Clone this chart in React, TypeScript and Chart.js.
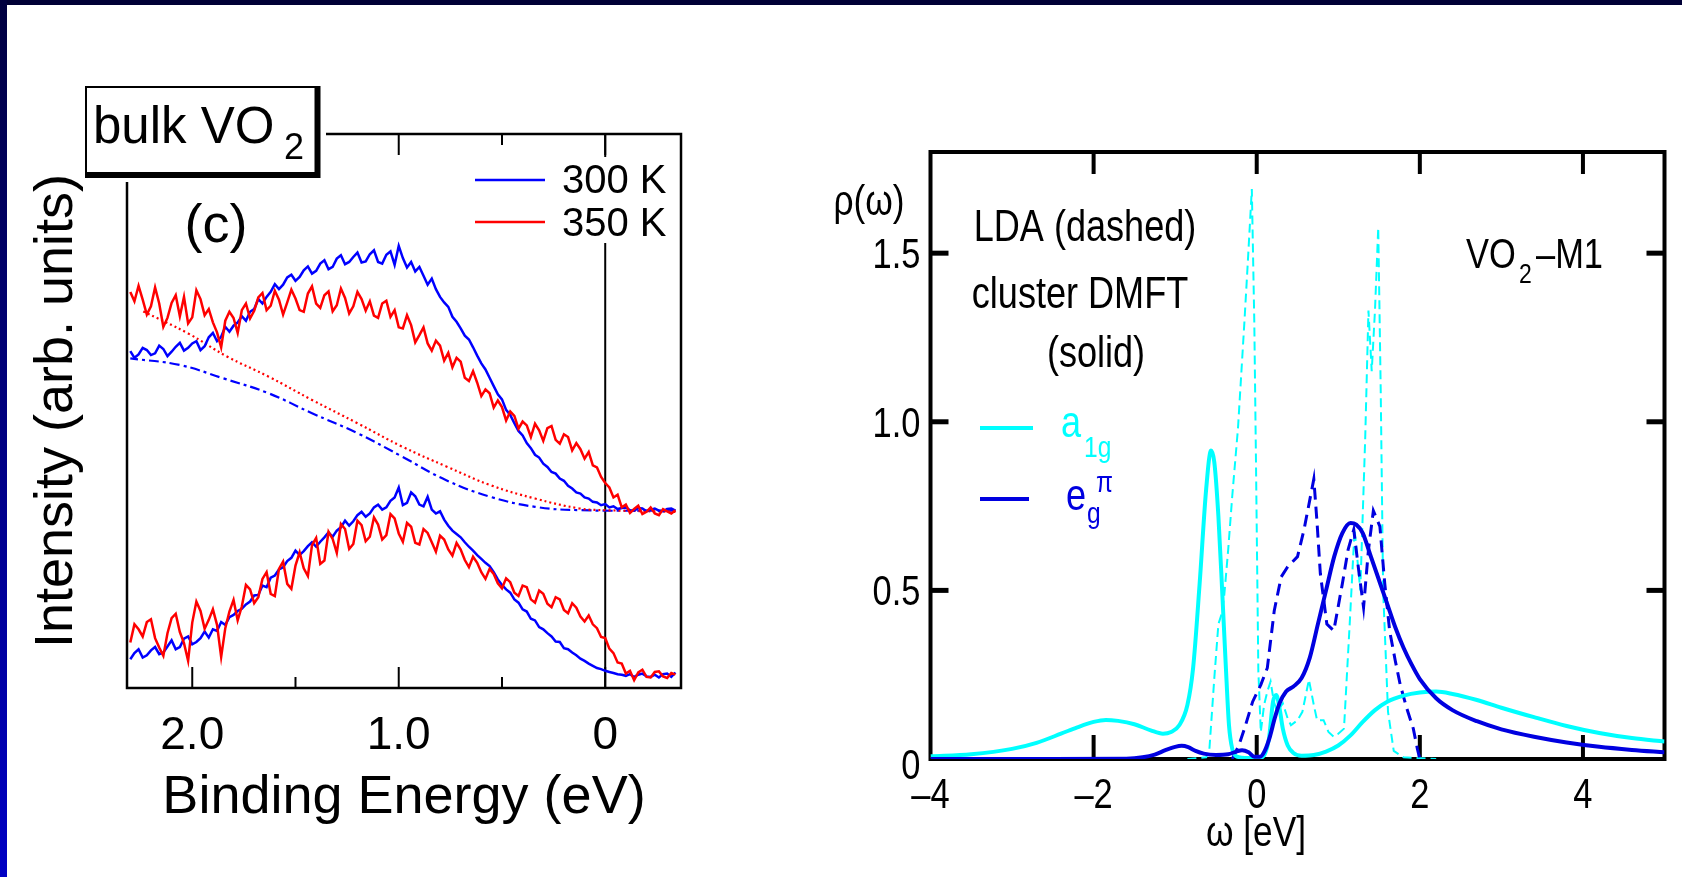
import React, { useEffect, useRef } from 'react';
import { Chart, registerables } from 'chart.js';

Chart.register(...registerables);

const SANS = '"Liberation Sans", Arial, Helvetica, sans-serif';
const NARROW_SCALE = 0.82;
const BLUE = '#0000ff';
const RED = '#ff0000';
const CYAN = '#00ffff';
const DBLUE = '#0000e0';

// ---------------- Left panel: photoemission spectra ----------------
const BINDING_ENERGY = [
  2.30, 2.28, 2.26, 2.24, 2.22, 2.20, 2.18, 2.16, 2.14, 2.12,
  2.10, 2.08, 2.06, 2.04, 2.02, 2.00, 1.98, 1.96, 1.94, 1.92,
  1.90, 1.88, 1.86, 1.84, 1.82, 1.80, 1.78, 1.76, 1.74, 1.72,
  1.70, 1.68, 1.66, 1.64, 1.62, 1.60, 1.58, 1.56, 1.54, 1.52,
  1.50, 1.48, 1.46, 1.44, 1.42, 1.40, 1.38, 1.36, 1.34, 1.32,
  1.30, 1.28, 1.26, 1.24, 1.22, 1.20, 1.18, 1.16, 1.14, 1.12,
  1.10, 1.08, 1.06, 1.04, 1.02, 1.00, 0.98, 0.96, 0.94, 0.92,
  0.90, 0.88, 0.86, 0.84, 0.82, 0.80, 0.78, 0.76, 0.74, 0.72,
  0.70, 0.68, 0.66, 0.64, 0.62, 0.60, 0.58, 0.56, 0.54, 0.52,
  0.50, 0.48, 0.46, 0.44, 0.42, 0.40, 0.38, 0.36, 0.34, 0.32,
  0.30, 0.28, 0.26, 0.24, 0.22, 0.20, 0.18, 0.16, 0.14, 0.12,
  0.10, 0.08, 0.06, 0.04, 0.02, 0.00, -0.02, -0.04, -0.06, -0.08,
  -0.10, -0.12, -0.14, -0.16, -0.18, -0.20, -0.22, -0.24, -0.26, -0.28,
  -0.30, -0.32, -0.34,
];

const BLUE_300K_TOP = [
  60.8, 59.6, 60.2, 61.4, 61.0, 60.1, 60.4, 61.8, 61.2, 59.9,
  60.7, 61.6, 62.3, 60.9, 61.4, 62.2, 62.6, 61.0, 61.7, 63.3,
  64.1, 62.6, 63.4, 65.2, 64.3, 65.4, 66.0, 67.1, 66.3, 67.9,
  68.4, 70.2, 69.4, 70.6, 71.5, 72.9, 72.0, 72.8, 74.1, 74.6,
  73.5, 74.2, 75.4, 76.1, 74.8, 75.3, 76.6, 77.2, 75.6, 76.0,
  77.5, 78.1, 76.5, 76.9, 77.8, 78.6, 76.8, 77.0, 78.3, 79.0,
  76.9, 76.6, 78.2, 78.8, 76.4, 79.8, 77.6, 75.9, 76.9, 75.2,
  76.0, 74.4, 72.8, 73.9, 72.0, 70.6, 69.6, 68.8, 67.0, 66.1,
  64.9, 63.6, 62.9, 61.5, 60.0, 58.6, 57.5, 56.0, 54.5, 53.0,
  52.1, 50.2, 49.3, 47.8, 46.4, 45.6, 44.2, 43.3, 42.1, 41.6,
  40.5, 39.9, 39.0, 38.7, 37.8, 37.4, 36.5, 36.0, 35.3, 35.1,
  34.4, 34.2, 33.6, 33.5, 33.0, 33.2, 32.6, 32.8, 32.3, 32.5,
  32.6, 32.1, 32.0, 32.5, 32.4, 31.9, 32.2, 32.4, 32.0, 31.9,
  32.3, 32.4, 32.0,
];

const RED_350K_TOP = [
  71.5, 69.8, 72.6, 70.1, 67.4, 68.9, 72.3, 69.4, 65.2, 66.8,
  69.5, 70.9, 67.1, 70.6, 65.8, 66.9, 71.8, 70.2, 67.3, 68.4,
  66.0, 64.2, 61.5, 66.3, 67.9, 66.8, 64.1, 68.2, 69.4, 66.7,
  68.1, 70.5, 71.3, 68.2, 69.0, 71.7, 70.1, 67.4, 69.6, 71.9,
  70.3, 68.2, 67.9, 71.2, 72.5, 69.4, 68.6, 70.9, 71.6, 68.0,
  69.1, 72.1, 70.4, 67.6, 68.9, 71.5, 70.2, 68.1, 69.8, 67.2,
  66.8, 69.4, 69.9, 67.0, 68.2, 65.1, 64.9, 67.3, 65.5, 62.4,
  63.7, 65.1, 62.2, 60.9, 62.7, 61.8, 59.1, 60.5, 57.9, 59.6,
  58.9, 56.0, 55.4, 57.2, 55.1, 52.7, 53.9, 53.2, 50.6, 51.9,
  50.7, 48.3, 49.9, 49.1, 46.8, 48.1, 47.4, 45.3, 47.7, 46.5,
  44.6, 46.9, 47.3, 44.8, 44.1, 45.8, 45.3, 42.9, 44.2, 43.1,
  41.4, 42.6, 40.2, 39.8, 38.1, 37.0, 36.2, 34.4, 34.9, 32.6,
  33.1, 31.6, 32.3, 32.9, 31.4, 31.8, 32.6, 31.5, 31.2, 32.3,
  31.9, 31.5, 32.1,
];

const BLUE_300K_DIFF = [
  5.2, 6.3, 7.0, 5.5, 5.9, 6.8, 7.4, 6.1, 6.4, 7.5,
  8.6, 7.0, 7.4, 8.9, 9.3, 7.9, 8.3, 9.0, 10.2, 9.1,
  10.6, 10.3, 11.9, 11.4, 12.8, 13.2, 13.9, 14.3, 15.1, 15.6,
  16.7, 16.8, 18.5, 18.2, 19.9, 20.3, 21.4, 21.8, 22.9, 23.5,
  24.8, 24.0, 24.7, 25.6, 26.3, 25.5, 26.4, 27.2, 28.1, 27.3,
  28.4, 29.0, 30.2, 29.3, 30.1, 31.2, 31.8, 30.9, 31.5, 32.6,
  33.1, 32.2, 32.6, 33.8, 34.4, 36.2, 33.0, 33.4, 35.3, 34.6,
  33.1, 32.8, 34.5, 32.2, 31.5, 31.9, 30.4, 29.3, 28.4, 27.8,
  27.2, 26.3, 25.5, 24.8, 24.0, 23.3, 22.6, 22.0, 20.9, 19.6,
  18.6, 17.8, 17.2, 16.0, 15.4, 14.2, 13.8, 12.5, 12.2, 11.0,
  10.6, 9.9, 9.3, 8.4, 8.3, 7.2, 7.0, 6.4, 5.9, 5.3,
  4.9, 4.4, 4.0, 3.6, 3.4, 3.1, 2.9, 2.7, 2.5, 2.4,
  2.2, 2.5, 2.0, 2.4, 2.6, 2.1, 2.0, 2.4, 1.9, 2.5,
  2.6, 2.0, 2.8,
];

const RED_350K_DIFF = [
  8.2, 11.5, 10.6, 9.3, 11.9, 12.4, 9.0, 7.3, 5.8, 9.9,
  12.6, 13.4, 10.1, 8.1, 4.9, 11.8, 15.6, 13.9, 10.7, 12.3,
  14.2, 11.4, 5.6, 10.8, 13.8, 15.9, 12.2, 14.7, 18.6, 17.8,
  15.3, 16.4, 19.7, 20.9, 17.0, 16.6, 21.5, 22.8, 18.8, 17.9,
  22.1, 24.5, 21.6, 20.2, 25.8, 27.1, 22.4, 23.0, 28.2, 26.9,
  24.4, 29.6, 28.7, 25.1, 26.0, 30.2, 29.4, 26.5, 27.3, 30.8,
  29.5, 26.8, 27.6, 31.4, 30.6, 27.9, 26.4, 29.8, 29.1, 26.2,
  25.9, 28.7, 28.0, 26.3, 24.6, 27.5, 26.8, 25.0, 23.9, 26.2,
  25.0, 23.1, 21.8, 23.7, 22.6, 20.9, 19.7, 21.5, 20.6, 18.9,
  18.0, 19.8, 19.1, 17.2, 16.6, 18.5, 18.2, 16.0, 15.4, 17.6,
  17.0, 15.2, 14.6, 16.4, 16.0, 14.1, 13.5, 15.3, 14.5, 12.9,
  12.0, 13.1, 11.5, 10.8, 9.2, 9.0, 7.1, 6.3, 4.6, 4.4,
  2.6, 3.1, 1.4, 2.8, 3.3, 2.0, 1.9, 2.9, 3.0, 2.1,
  1.8, 2.7, 2.4,
];

const BG_350K_E = [-0.34, 0.0, 0.124, 0.34, 0.555, 0.77, 0.985, 1.2, 1.42, 1.63, 1.83, 2.02, 2.25];
const BG_350K_V = [31.8, 32.1, 32.4, 34.2, 36.6, 40.0, 43.6, 47.8, 52.0, 56.2, 59.8, 64.0, 68.2];
const BG_300K_E = [-0.34, 0.124, 0.34, 0.555, 0.77, 0.985, 1.2, 1.42, 1.63, 1.85, 2.06, 2.30];
const BG_300K_V = [32.0, 32.1, 32.7, 34.5, 37.5, 41.8, 46.0, 49.6, 53.2, 55.9, 58.3, 59.5];

const LEFT_X_MIN = -0.367;
const LEFT_X_MAX = 2.316;
const LEFT_TICKS = [2.0, 1.5, 1.0, 0.5, 0];
const LEFT_TICK_LABELS = ['2.0', '', '1.0', '', '0'];
const LEFT_TICK_MAJOR = [true, false, true, false, true];
const LEFT_LEGEND = ['300 K', '350 K'];

// ---------------- Right panel: DOS ----------------
const OMEGA_A1G_DMFT = [-4.0, -3.5, -3.0, -2.7, -2.4, -2.2, -2.0, -1.85, -1.7, -1.5, -1.3, -1.15, -1.05, -0.95, -0.85, -0.78, -0.7, -0.62, -0.56, -0.52, -0.47, -0.42, -0.38, -0.34, -0.3, -0.25, -0.1, 0.05, 0.1, 0.15, 0.2, 0.24, 0.28, 0.32, 0.38, 0.45, 0.55, 0.7, 0.85, 1.0, 1.15, 1.3, 1.45, 1.6, 1.8, 2.0, 2.2, 2.4, 2.7, 3.0, 3.4, 3.8, 4.2, 4.6, 5.0];
const RHO_A1G_DMFT = [0.008, 0.014, 0.03, 0.048, 0.075, 0.094, 0.11, 0.116, 0.113, 0.103, 0.085, 0.075, 0.08, 0.1, 0.16, 0.27, 0.52, 0.8, 0.915, 0.88, 0.72, 0.48, 0.28, 0.1, 0.03, 0.008, 0.003, 0.004, 0.015, 0.06, 0.17, 0.19, 0.15, 0.09, 0.04, 0.018, 0.01, 0.012, 0.022, 0.04, 0.07, 0.11, 0.145, 0.17, 0.188, 0.197, 0.2, 0.193, 0.175, 0.152, 0.124, 0.098, 0.077, 0.062, 0.052];

const OMEGA_EG_DMFT = [-4.0, -2.5, -1.6, -1.4, -1.25, -1.12, -1.0, -0.92, -0.84, -0.75, -0.65, -0.5, -0.35, -0.25, -0.18, -0.1, -0.03, 0.04, 0.1, 0.16, 0.22, 0.28, 0.36, 0.45, 0.55, 0.65, 0.75, 0.85, 0.95, 1.05, 1.15, 1.22, 1.3, 1.4, 1.5, 1.6, 1.7, 1.8, 1.9, 2.0, 2.2, 2.4, 2.7, 3.0, 3.4, 3.8, 4.2, 4.6, 5.0];
const RHO_EG_DMFT = [0.0, 0.0, 0.001, 0.005, 0.013, 0.026, 0.036, 0.039, 0.035, 0.024, 0.016, 0.012, 0.014, 0.022, 0.026, 0.02, 0.007, 0.007, 0.025, 0.065, 0.12, 0.165, 0.2, 0.215, 0.24, 0.3, 0.4, 0.5, 0.6, 0.67, 0.70, 0.695, 0.67, 0.6, 0.53, 0.46, 0.39, 0.33, 0.28, 0.237, 0.18, 0.145, 0.112, 0.088, 0.066, 0.049, 0.036, 0.027, 0.02];

const OMEGA_A1G_LDA = [-0.85, -0.62, -0.58, -0.52, -0.47, -0.43, -0.4, -0.35, -0.3, -0.23, -0.15, -0.11, -0.06, -0.03, -0.01, 0.02, 0.05, 0.09, 0.13, 0.17, 0.21, 0.25, 0.32, 0.38, 0.42, 0.5, 0.56, 0.64, 0.7, 0.74, 0.82, 0.88, 0.945, 1.0, 1.07, 1.14, 1.2, 1.27, 1.33, 1.37, 1.41, 1.45, 1.49, 1.52, 1.55, 1.61, 1.68, 1.8, 2.2];
const RHO_A1G_LDA = [0.0, 0.005, 0.03, 0.24, 0.4, 0.43, 0.48, 0.62, 0.78, 0.98, 1.3, 1.47, 1.69, 1.3, 0.9, 0.26, 0.08, 0.16, 0.2, 0.23, 0.17, 0.14, 0.165, 0.12, 0.1, 0.115, 0.14, 0.235, 0.16, 0.115, 0.115, 0.08, 0.066, 0.075, 0.09, 0.4, 0.68, 0.5, 0.95, 1.33, 1.15, 1.33, 1.576, 1.1, 0.5, 0.14, 0.024, 0.005, 0.0];

const OMEGA_EG_LDA = [-0.3, -0.22, -0.15, -0.05, 0.05, 0.13, 0.215, 0.3, 0.38, 0.5, 0.58, 0.66, 0.70, 0.74, 0.78, 0.86, 0.945, 1.05, 1.12, 1.19, 1.25, 1.31, 1.37, 1.43, 1.51, 1.57, 1.63, 1.7, 1.76, 1.84, 1.92, 1.97, 2.0];
const RHO_EG_LDA = [0.0, 0.04, 0.09, 0.17, 0.22, 0.27, 0.44, 0.54, 0.57, 0.6, 0.68, 0.78, 0.83, 0.7, 0.55, 0.4, 0.38, 0.52, 0.62, 0.68, 0.56, 0.45, 0.62, 0.736, 0.69, 0.52, 0.38, 0.29, 0.22, 0.15, 0.09, 0.03, 0.0];

const RIGHT_X_MIN = -4;
const RIGHT_X_MAX = 5;
const RIGHT_Y_MIN = 0;
const RIGHT_Y_MAX = 1.8;
const RIGHT_X_TICKS = [-4, -2, 0, 2, 4];
const RIGHT_X_LABELS = ['\u20134', '\u20132', '0', '2', '4'];
const RIGHT_Y_TICKS = [0, 0.5, 1.0, 1.5];
const RIGHT_Y_LABELS = ['0', '0.5', '1.0', '1.5'];

const toPoints = (xs: number[], ys: number[]) => xs.map((x, i) => ({ x, y: ys[i] }));

function seg(ctx: CanvasRenderingContext2D, x1: number, y1: number, x2: number, y2: number) {
  ctx.beginPath();
  ctx.moveTo(x1, y1);
  ctx.lineTo(x2, y2);
  ctx.stroke();
}

// condensed (Helvetica-Narrow-like) text drawn with a horizontal squeeze
function narrowText(ctx: CanvasRenderingContext2D, text: string, x: number, y: number, size: number, align: CanvasTextAlign, color: string) {
  ctx.save();
  ctx.font = `${size}px ${SANS}`;
  ctx.fillStyle = color;
  ctx.textAlign = align;
  ctx.textBaseline = 'alphabetic';
  ctx.translate(x, y);
  ctx.scale(NARROW_SCALE, 1);
  ctx.fillText(text, 0, 0);
  ctx.restore();
}

const leftDeco = {
  id: 'leftDeco',
  beforeDatasetsDraw(chart: any) {
    const { ctx, chartArea: a, scales } = chart;
    const x = scales.x;
    ctx.save();
    ctx.strokeStyle = '#000';
    ctx.lineWidth = 2.5;
    ctx.strokeRect(a.left, a.top, a.right - a.left, a.bottom - a.top);
    const x0 = x.getPixelForValue(0);
    ctx.lineWidth = 2;
    seg(ctx, x0, a.top, x0, a.bottom);
    LEFT_TICKS.forEach((v, i) => {
      const px = x.getPixelForValue(v);
      const len = LEFT_TICK_MAJOR[i] ? 21 : 11;
      seg(ctx, px, a.bottom, px, a.bottom - len);
      seg(ctx, px, a.top, px, a.top + len);
    });
    ctx.restore();
  },
  afterDatasetsDraw(chart: any) {
    const { ctx } = chart;
    ctx.save();
    // legend
    ctx.fillStyle = '#fff';
    ctx.fillRect(468, 157, 207, 86);
    ctx.lineWidth = 2.5;
    ctx.strokeStyle = BLUE;
    seg(ctx, 475, 180, 545, 180);
    ctx.strokeStyle = RED;
    seg(ctx, 475, 222, 545, 222);
    ctx.fillStyle = '#000';
    ctx.font = `40px ${SANS}`;
    ctx.textAlign = 'left';
    ctx.textBaseline = 'alphabetic';
    ctx.fillText(LEFT_LEGEND[0], 562, 193);
    ctx.fillText(LEFT_LEGEND[1], 562, 236);
    // "bulk VO2" box
    ctx.fillStyle = '#fff';
    ctx.fillRect(89, 80, 237, 102);
    ctx.fillStyle = '#000';
    ctx.fillRect(85, 86, 235.5, 92);
    ctx.fillStyle = '#fff';
    ctx.fillRect(87, 88, 227.5, 84);
    ctx.fillStyle = '#000';
    ctx.font = `51px ${SANS}`;
    ctx.fillText('bulk VO', 93, 143);
    ctx.font = `36px ${SANS}`;
    ctx.fillText('2', 284, 159);
    ctx.font = `54px ${SANS}`;
    ctx.textAlign = 'center';
    ctx.fillText('(c)', 216, 242);
    ctx.restore();
  },
};

const rightDeco = {
  id: 'rightDeco',
  beforeDatasetsDraw(chart: any) {
    const { ctx, chartArea: a, scales } = chart;
    const x = scales.x;
    const y = scales.y;
    ctx.save();
    ctx.strokeStyle = '#000';
    ctx.lineWidth = 4;
    ctx.strokeRect(a.left, a.top, a.right - a.left, a.bottom - a.top);
    RIGHT_X_TICKS.forEach((v) => {
      if (v === RIGHT_X_MIN) return;
      const px = x.getPixelForValue(v);
      seg(ctx, px, a.bottom, px, a.bottom - 24);
      seg(ctx, px, a.top, px, a.top + 22);
    });
    ctx.lineWidth = 5;
    RIGHT_Y_TICKS.forEach((v) => {
      if (v === RIGHT_Y_MIN) return;
      const py = y.getPixelForValue(v);
      seg(ctx, a.left, py, a.left + 18, py);
      seg(ctx, a.right, py, a.right - 18, py);
    });
    // tick labels (condensed font) placed through the chart scales
    RIGHT_X_TICKS.forEach((v, i) => {
      narrowText(ctx, RIGHT_X_LABELS[i], x.getPixelForValue(v), a.bottom + 49, 42, 'center', '#000');
    });
    RIGHT_Y_TICKS.forEach((v, i) => {
      const dy = v === RIGHT_Y_MIN ? 5 : 0;
      narrowText(ctx, RIGHT_Y_LABELS[i], a.left - 10, y.getPixelForValue(v) + 15 + dy, 42, 'right', '#000');
    });
    ctx.restore();
  },
  afterDatasetsDraw(chart: any) {
    const { ctx } = chart;
    ctx.save();
    narrowText(ctx, '\u03c1(\u03c9)', 89, 215, 43, 'center', '#000');
    narrowText(ctx, 'LDA (dashed)', 305, 241, 44, 'center', '#000');
    narrowText(ctx, 'cluster DMFT', 300, 308, 44, 'center', '#000');
    narrowText(ctx, '(solid)', 316, 367, 44, 'center', '#000');
    narrowText(ctx, '\u03c9 [eV]', 476, 846, 43, 'center', '#000');
    // VO2-M1
    narrowText(ctx, 'VO', 686, 268, 42, 'left', '#000');
    narrowText(ctx, '2', 739, 283, 28, 'left', '#000');
    narrowText(ctx, '\u2013M1', 756, 268, 42, 'left', '#000');
    // legend
    ctx.lineWidth = 4;
    ctx.strokeStyle = CYAN;
    seg(ctx, 200, 428, 253, 428);
    ctx.strokeStyle = DBLUE;
    seg(ctx, 200, 499, 249, 499);
    narrowText(ctx, 'a', 281, 437, 44, 'left', CYAN);
    narrowText(ctx, '1g', 304, 457, 30, 'left', CYAN);
    narrowText(ctx, 'e', 286, 510, 44, 'left', DBLUE);
    narrowText(ctx, '\u03c0', 316, 492, 30, 'left', DBLUE);
    narrowText(ctx, 'g', 307, 523, 30, 'left', DBLUE);
    ctx.restore();
  },
};

function leftConfig(): any {
  const base = { pointRadius: 0, fill: false, tension: 0 };
  return {
    type: 'line',
    data: {
      datasets: [
        { ...base, label: '350 K', data: toPoints(BINDING_ENERGY, RED_350K_TOP), borderColor: RED, borderWidth: 2.5 },
        { ...base, label: '350 K diff', data: toPoints(BINDING_ENERGY, RED_350K_DIFF), borderColor: RED, borderWidth: 2.5 },
        { ...base, label: '300 K', data: toPoints(BINDING_ENERGY, BLUE_300K_TOP), borderColor: BLUE, borderWidth: 2.5 },
        { ...base, label: '300 K diff', data: toPoints(BINDING_ENERGY, BLUE_300K_DIFF), borderColor: BLUE, borderWidth: 2.5 },
        { ...base, label: '350 K background', data: toPoints(BG_350K_E, BG_350K_V), borderColor: RED, borderWidth: 2.2, borderDash: [2, 3], tension: 0.4 },
        { ...base, label: '300 K background', data: toPoints(BG_300K_E, BG_300K_V), borderColor: BLUE, borderWidth: 2.2, borderDash: [10, 4, 3, 4], tension: 0.4 },
      ],
    },
    options: {
      responsive: false,
      animation: false,
      events: [],
      layout: { padding: { left: 0, top: 134, right: 99, bottom: 0 } },
      plugins: { legend: { display: false }, tooltip: { enabled: false } },
      scales: {
        x: {
          type: 'linear',
          reverse: true,
          min: LEFT_X_MIN,
          max: LEFT_X_MAX,
          afterBuildTicks: (s: any) => { s.ticks = LEFT_TICKS.map((v) => ({ value: v })); },
          afterFit: (s: any) => { s.height = 189; },
          grid: { display: false },
          border: { display: false },
          ticks: {
            autoSkip: false,
            maxRotation: 0,
            padding: 13,
            color: '#000',
            font: { family: SANS, size: 46 },
            callback: (_v: any, i: number) => LEFT_TICK_LABELS[i] ?? '',
          },
          title: {
            display: true,
            text: 'Binding Energy (eV)',
            color: '#000',
            font: { family: SANS, size: 54 },
            padding: { top: 0, bottom: 46 },
          },
        },
        y: {
          type: 'linear',
          min: 0,
          max: 100,
          afterFit: (s: any) => { s.width = 127; },
          grid: { display: false },
          border: { display: false },
          ticks: { display: false },
          title: {
            display: true,
            text: 'Intensity (arb. units)',
            color: '#000',
            font: { family: SANS, size: 54 },
            padding: { top: 25, bottom: 0 },
          },
        },
      },
    },
    plugins: [leftDeco],
  };
}

function rightConfig(): any {
  const base = { pointRadius: 0, fill: false };
  return {
    type: 'line',
    data: {
      datasets: [
        { ...base, label: 'e_g^pi cluster DMFT', data: toPoints(OMEGA_EG_DMFT, RHO_EG_DMFT), borderColor: DBLUE, borderWidth: 4, cubicInterpolationMode: 'monotone' },
        { ...base, label: 'a_1g cluster DMFT', data: toPoints(OMEGA_A1G_DMFT, RHO_A1G_DMFT), borderColor: CYAN, borderWidth: 4, cubicInterpolationMode: 'monotone' },
        { ...base, label: 'e_g^pi LDA', data: toPoints(OMEGA_EG_LDA, RHO_EG_LDA), borderColor: DBLUE, borderWidth: 3, borderDash: [12, 7], tension: 0 },
        { ...base, label: 'a_1g LDA', data: toPoints(OMEGA_A1G_LDA, RHO_A1G_LDA), borderColor: CYAN, borderWidth: 2, borderDash: [9, 5], tension: 0 },
      ],
    },
    options: {
      responsive: false,
      animation: false,
      events: [],
      layout: { padding: { left: 0, top: 152, right: 17.5, bottom: 0 } },
      plugins: { legend: { display: false }, tooltip: { enabled: false } },
      scales: {
        x: {
          type: 'linear',
          min: RIGHT_X_MIN,
          max: RIGHT_X_MAX,
          afterBuildTicks: (s: any) => { s.ticks = RIGHT_X_TICKS.map((v) => ({ value: v })); },
          afterFit: (s: any) => { s.height = 118; },
          grid: { display: false },
          border: { display: false },
          ticks: { display: false },
        },
        y: {
          type: 'linear',
          min: RIGHT_Y_MIN,
          max: RIGHT_Y_MAX,
          afterBuildTicks: (s: any) => { s.ticks = RIGHT_Y_TICKS.map((v) => ({ value: v })); },
          afterFit: (s: any) => { s.width = 150.5; },
          grid: { display: false },
          border: { display: false },
          ticks: { display: false },
        },
      },
    },
    plugins: [rightDeco],
  };
}

export default function App() {
  const leftRef = useRef<HTMLCanvasElement>(null);
  const rightRef = useRef<HTMLCanvasElement>(null);

  useEffect(() => {
    const c1 = new Chart(leftRef.current as HTMLCanvasElement, leftConfig());
    const c2 = new Chart(rightRef.current as HTMLCanvasElement, rightConfig());
    return () => {
      c1.destroy();
      c2.destroy();
    };
  }, []);

  return (
    <div style={{ position: 'fixed', left: 0, top: 0, width: 1682, height: 877, background: '#fff', overflow: 'hidden' }}>
      <canvas ref={leftRef} width={780} height={877} style={{ position: 'absolute', left: 0, top: 0, width: 780, height: 877 }} />
      <canvas ref={rightRef} width={902} height={877} style={{ position: 'absolute', left: 780, top: 0, width: 902, height: 877 }} />
      <div style={{ position: 'absolute', left: 0, top: 0, width: 1682, height: 5, background: '#000036' }} />
      <div style={{ position: 'absolute', left: 0, top: 0, width: 7, height: 877, background: 'linear-gradient(#000040, #0000c4)' }} />
    </div>
  );
}
